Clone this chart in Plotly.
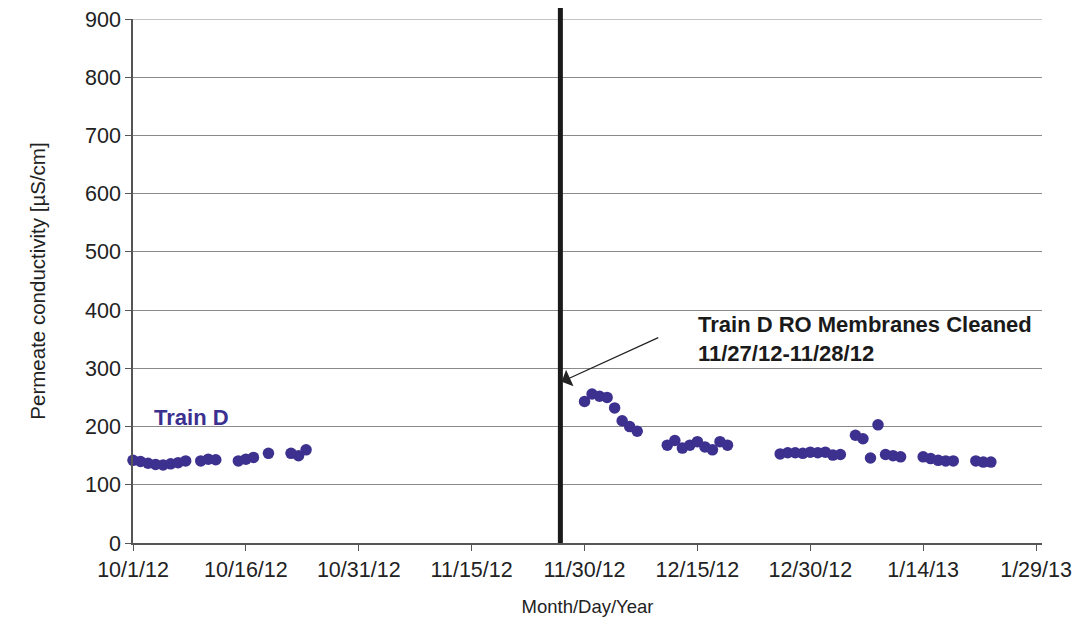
import plotly.graph_objects as go

# ---- data ----
dates_pre = ["2012-10-01", "2012-10-02", "2012-10-03", "2012-10-04", "2012-10-05",
             "2012-10-06", "2012-10-07", "2012-10-08", "2012-10-10", "2012-10-11",
             "2012-10-12", "2012-10-15", "2012-10-16", "2012-10-17", "2012-10-19",
             "2012-10-22", "2012-10-23", "2012-10-24"]
cond_pre = [142, 140, 137, 135, 134, 136, 138, 141, 141, 144,
            143, 141, 144, 147, 154, 154, 150, 160]

dates_post = ["2012-11-30", "2012-12-01", "2012-12-02", "2012-12-03", "2012-12-04",
              "2012-12-05", "2012-12-06", "2012-12-07",
              "2012-12-11", "2012-12-12", "2012-12-13", "2012-12-14", "2012-12-15",
              "2012-12-16", "2012-12-17", "2012-12-18", "2012-12-19",
              "2012-12-26", "2012-12-27", "2012-12-28", "2012-12-29", "2012-12-30",
              "2012-12-31", "2013-01-01", "2013-01-02", "2013-01-03",
              "2013-01-05", "2013-01-06", "2013-01-07", "2013-01-08",
              "2013-01-09", "2013-01-10", "2013-01-11",
              "2013-01-14", "2013-01-15", "2013-01-16", "2013-01-17", "2013-01-18",
              "2013-01-21", "2013-01-22", "2013-01-23"]
cond_post = [243, 256, 252, 250, 232, 210, 200, 192,
             168, 176, 163, 168, 174, 165, 160, 174, 168,
             153, 155, 155, 154, 156, 155, 156, 151, 152,
             185, 179, 146, 203,
             152, 150, 148,
             148, 145, 142, 141, 141,
             141, 139, 139]

tick_dates = ["2012-10-01", "2012-10-16", "2012-10-31", "2012-11-15", "2012-11-30",
              "2012-12-15", "2012-12-30", "2013-01-14", "2013-01-29"]
tick_labels = ["10/1/12", "10/16/12", "10/31/12", "11/15/12", "11/30/12",
               "12/15/12", "12/30/12", "1/14/13", "1/29/13"]
y_ticks = [0, 100, 200, 300, 400, 500, 600, 700, 800, 900]

cleaning_date = "2012-11-26 19:00"
x_range = ["2012-10-01", "2013-01-29 19:00"]

marker_color = "#3D3190"
grid_color = "#8a8a8a"
font_fam = "Liberation Sans, Arial, sans-serif"

fig = go.Figure()
fig.add_trace(go.Scatter(
    x=dates_pre + dates_post, y=cond_pre + cond_post, mode="markers",
    marker=dict(color=marker_color, size=11.5, line=dict(width=0)),
    showlegend=False, cliponaxis=False))

# top gridline (plotly drops the grid line on the plot edge)
fig.add_shape(type="line", xref="paper", yref="y", x0=0, x1=1,
              y0=y_ticks[-1], y1=y_ticks[-1], line=dict(color=grid_color, width=1))

# cleaning line
fig.add_shape(type="line", xref="x", yref="paper", x0=cleaning_date, x1=cleaning_date,
              y0=0, y1=1.027, line=dict(color="#1a1a1a", width=5))

# left border of chart frame
fig.add_shape(type="line", xref="paper", yref="paper", x0=-0.143, x1=-0.143,
              y0=-0.18, y1=1.04, line=dict(color="#777", width=1))

fig.add_annotation(x="2012-11-26 23:00", y=277, ax="2012-12-10", ay=354,
                   xref="x", yref="y", axref="x", ayref="y", text="",
                   showarrow=True, arrowhead=1, arrowsize=2.3, arrowwidth=1.3,
                   arrowcolor="#222")
fig.add_annotation(x="2012-12-14 20:00", y=351, xref="x", yref="y",
                   text="<b>Train D RO Membranes Cleaned<br>11/27/12-11/28/12</b>",
                   showarrow=False, xanchor="left", yanchor="middle", align="left",
                   font=dict(family=font_fam, size=22, color="#1a1a1a"))
fig.add_annotation(x="2012-10-03 12:00", y=215, xref="x", yref="y",
                   text="<b>Train D</b>", showarrow=False, xanchor="left",
                   yanchor="middle",
                   font=dict(family=font_fam, size=22, color="#3B2F8F"))

fig.update_layout(
    width=1086, height=635,
    margin=dict(l=125, r=52, t=11, b=100, autoexpand=False),
    paper_bgcolor="white", plot_bgcolor="white",
    font=dict(family=font_fam, size=22, color="#222"),
    xaxis=dict(type="date", range=x_range, tickvals=tick_dates, ticktext=tick_labels,
               showgrid=False, showline=True, linecolor="#555", linewidth=1.5,
               ticks="outside", ticklen=6, tickcolor="#555", zeroline=False,
               automargin=False, ticklabeloverflow="allow",
               title=dict(text="Month/Day/Year", font=dict(size=18.5), standoff=20),
               tickfont=dict(size=21.5, color="#222")),
    yaxis=dict(range=[0, 900], tickvals=y_ticks, showgrid=True, gridcolor=grid_color,
               gridwidth=1, showline=True, linecolor="#555", linewidth=1.5,
               ticks="outside", ticklen=6, tickcolor="#555", zeroline=False,
               automargin=False, ticklabeloverflow="allow",
               title=dict(text="Permeate conductivity [µS/cm]", font=dict(size=20.5),
                          standoff=34),
               tickfont=dict(size=21.5, color="#222")),
)

fig.write_html("out.html")
